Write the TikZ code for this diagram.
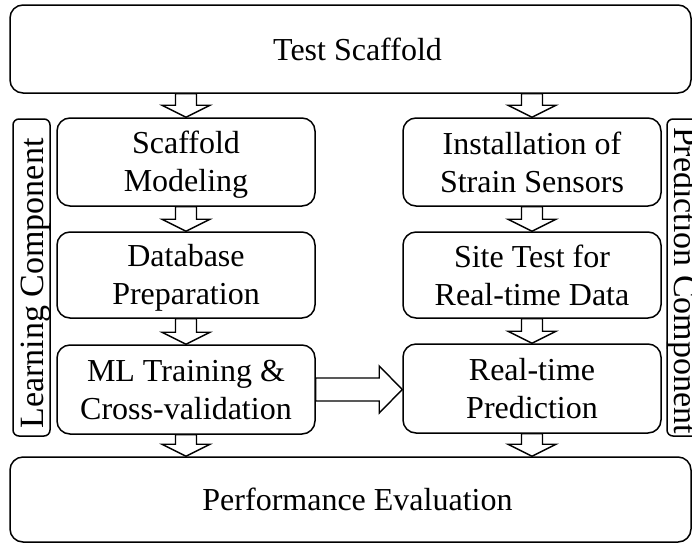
\documentclass[tikz,border=0pt]{standalone}
\usepackage{fontspec}
\setmainfont{Liberation Serif}
\usetikzlibrary{calc}
\newcommand\lstr{\rule[-6pt]{0pt}{34pt}}
\newcommand\vconn[3]{% from, to, column node
  \draw[blk] let \p1=(#1.south -| #3.center), \p2=(#2.north -| #3.center) in
   (\x1-10.5pt,\y1) -- (\x1+10.5pt,\y1) -- (\x1+10.5pt,\y2+12pt) -- (\x1+24pt,\y2+12pt)
   -- (\x2,\y2) -- (\x1-24pt,\y2+12pt) -- (\x1-10.5pt,\y2+12pt) -- cycle;}
\newcommand\hconn[2]{% from, to
  \draw[blk] let \p1=(#1.east), \p2=(#2.west) in
   (\x1,\y1+11.5pt) -- (\x2-23pt,\y1+11.5pt) -- (\x2-23pt,\y1+23.5pt) -- (\x2,\y1)
   -- (\x2-23pt,\y1-23.5pt) -- (\x2-23pt,\y1-11.5pt) -- (\x1,\y1-11.5pt) -- cycle;}
\begin{document}
\begin{tikzpicture}[x=1pt,y=-1pt,
  box/.style={draw, line width=1.5pt, rounded corners=13pt, align=center, inner sep=0pt,
    font=\fontsize{32}{38}\selectfont},
  colbox/.style={box, minimum width=258pt},
  lbl/.style={draw, line width=1.5pt, rounded corners=6pt, inner sep=0pt,
    minimum width=317pt, minimum height=37pt, text height=27pt, text depth=4pt,
    font=\fontsize{34}{38}\selectfont},
  blk/.style={draw, line width=1.4pt, line join=miter}]
\clip (0,0) rectangle (692,544);
\node[box, minimum width=681pt, minimum height=88pt] (top) at (350.5,49) {\hspace*{14pt}Test Scaffold};
\node[colbox, minimum height=88pt] (scaf) at (186,162) {\lstr Scaffold\\\lstr Modeling};
\node[colbox, minimum height=86pt] (db) at (186,275) {\lstr Database\\\lstr Preparation};
\node[colbox, minimum height=89pt] (ml) at (186,389.5) {\lstr ML Training \&\\\lstr Cross-validation};
\node[colbox, minimum height=88pt] (inst) at (532,162) {\lstr Installation of\\\lstr Strain Sensors};
\node[colbox, minimum height=86pt] (site) at (532,275) {\lstr Site Test for\\\lstr Real-time Data};
\node[colbox, minimum height=89pt] (rt) at (532,388.5) {\lstr Real-time\\\lstr Prediction};
\node[box, minimum width=681pt, minimum height=85pt] (perf) at (350.5,499.5) {\hspace*{14pt}Performance Evaluation};
\node[lbl, rotate=90] (learn) at (31.5,277.5) {Learning Component\hspace*{12pt}};
\node[lbl, rotate=-90] (pred) at (685.5,277.5) {\hspace*{6pt}Prediction Component};
\vconn{top}{scaf}{scaf}
\vconn{scaf}{db}{scaf}
\vconn{db}{ml}{scaf}
\vconn{ml}{perf}{ml}
\vconn{top}{inst}{inst}
\vconn{inst}{site}{inst}
\vconn{site}{rt}{inst}
\vconn{rt}{perf}{rt}
\hconn{ml}{rt}
\end{tikzpicture}
\end{document}
